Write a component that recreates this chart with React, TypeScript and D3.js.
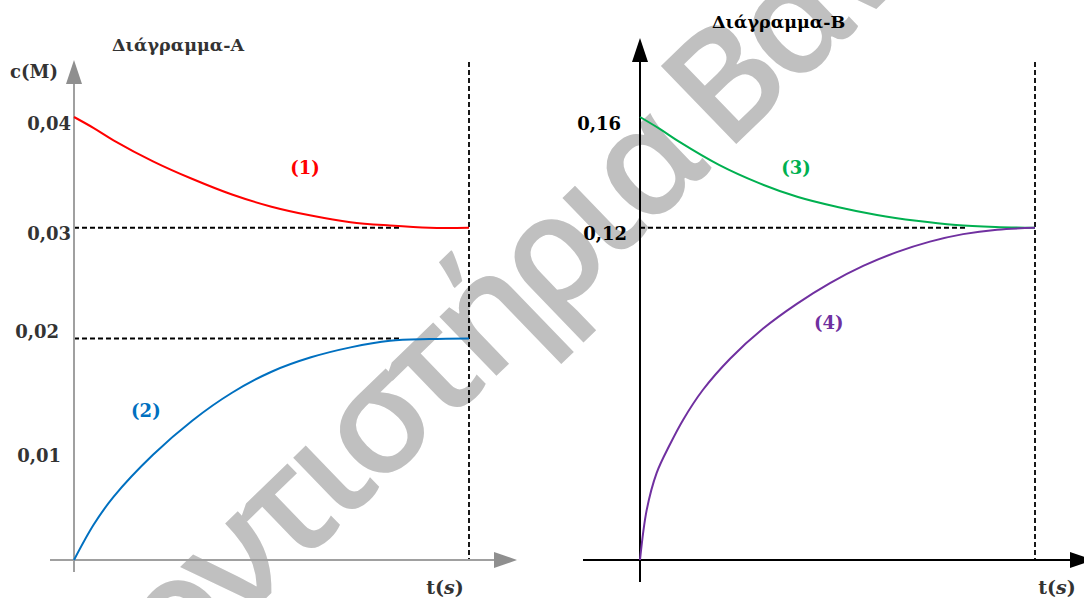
import React from 'react';
import * as d3 from 'd3';

const W = 1084;
const H = 598;

// Διάγραμμα-A : c(M) over t(s)
const timesA = [0, 0.5, 1, 2, 3, 4, 5, 6, 7, 8, 9, 10];
const conc1 = [0.04, 0.039, 0.0379, 0.036, 0.0344, 0.033, 0.0319, 0.0311, 0.0305, 0.0302, 0.03, 0.03];
const conc2 = [0, 0.0032, 0.0057, 0.0095, 0.0126, 0.0151, 0.017, 0.0183, 0.0192, 0.0198, 0.01995, 0.02];
const ticksA = [0.04, 0.03, 0.02, 0.01];
const tickLabelsA = ['0,04', '0,03', '0,02', '0,01'];
const guidesA = [0.03, 0.02];

// Διάγραμμα-B
const times3 = [0, 0.5, 1, 2, 3, 4, 5, 6, 7, 8, 9, 10];
const conc3 = [0.16, 0.1557, 0.151, 0.1427, 0.1362, 0.1311, 0.1275, 0.1246, 0.1225, 0.121, 0.1203, 0.12];
const times4 = [0, 0.17, 0.42, 0.76, 1.09, 1.59, 2.28, 3.11, 3.97, 4.81, 5.65, 6.5, 7.34, 8.18, 9.04, 10];
const conc4 = [0, 0.0181, 0.0314, 0.0418, 0.0506, 0.0614, 0.0727, 0.0835, 0.0925, 0.1, 0.1062, 0.1112, 0.115, 0.1177, 0.1193, 0.12];
const ticksB = [0.16, 0.12];
const tickLabelsB = ['0,16', '0,12'];
const guidesB = [0.12];

// curve names and where they sit (t, c)
const namesA = ['(1)', '(2)'];
const nameAtA = [[5.85, 0.0354], [1.82, 0.0135]];
const namesB = ['(3)', '(4)'];
const nameAtB = [[3.95, 0.1416], [4.78, 0.0856]];

const END_T = 10;
const GUIDE_END_T = 8.3;
const FONT = '"DejaVu Serif", serif';

const tri = (tipX: number, tipY: number, len: number, half: number, dir: 'up' | 'right') =>
  dir === 'up'
    ? `M${tipX},${tipY}L${tipX - half},${tipY + len}L${tipX + half},${tipY + len}Z`
    : `M${tipX},${tipY}L${tipX - len},${tipY - half}L${tipX - len},${tipY + half}Z`;

type PanelProps = {
  x: d3.ScaleLinear<number, number>;
  y: d3.ScaleLinear<number, number>;
  times: number[][];
  series: number[][];
  colors: string[];
  names: string[];
  nameAt: number[][];
  ticks: number[];
  tickLabels: string[];
  tickNudge: number[][];
  guides: number[];
  axisColor: string;
  arrowColor: string;
  textColor: string;
  title: string;
  titlePos: number[];
  yTitle?: string;
  // axis geometry: x-axis start pad, arrow tip beyond t end, y-arrow tip, y-axis tail, t(s) label x
  geo: { xPad: number; xTip: number; yTip: number; yTail: number; tLabel: number };
};

const Panel = (p: PanelProps) => {
  const { x, y, geo } = p;
  const x0 = x(0);
  const y0 = y(0);
  const xEnd = x(END_T);
  return (
    <g>
      {/* guides */}
      {p.guides.map(g => (
        <line key={g} x1={x0} x2={x(GUIDE_END_T)} y1={y(g)} y2={y(g)} stroke="#000" strokeWidth={1.8} strokeDasharray="5,3" />
      ))}
      <line x1={xEnd} x2={xEnd} y1={62} y2={y0} stroke="#000" strokeWidth={1.8} strokeDasharray="5,3" />
      {/* axes */}
      <line x1={x0 - geo.xPad} x2={xEnd + geo.xTip - 20} y1={y0} y2={y0} stroke={p.axisColor} strokeWidth={2} />
      <path d={tri(xEnd + geo.xTip, y0, 23, 8, 'right')} fill={p.arrowColor} />
      <line x1={x0} x2={x0} y1={y0 + geo.yTail} y2={geo.yTip + 20} stroke={p.axisColor} strokeWidth={2} />
      <path d={tri(x0, geo.yTip, 24, 8, 'up')} fill={p.arrowColor} />
      {/* curves */}
      {p.series.map((s, i) => {
        const line = d3
          .line<number>()
          .x((_, j) => x(p.times[i][j]))
          .y(d => y(d))
          .curve(d3.curveCatmullRom.alpha(0.5));
        return <path key={i} d={line(s) || ''} fill="none" stroke={p.colors[i]} strokeWidth={2} />;
      })}
      {/* tick labels */}
      {p.ticks.map((t, i) => (
        <text
          key={t}
          x={x0 - 3 + p.tickNudge[i][0]}
          y={y(t) + 7 + p.tickNudge[i][1]}
          textAnchor="end"
          dy="0.35em"
          fontFamily={FONT}
          fontWeight="bold"
          fontSize={18}
          fill={p.textColor}
        >
          {p.tickLabels[i]}
        </text>
      ))}
      {/* curve names */}
      {p.names.map((n, i) => (
        <text
          key={n}
          x={x(p.nameAt[i][0])}
          y={y(p.nameAt[i][1])}
          textAnchor="middle"
          dy="0.35em"
          fontFamily={FONT}
          fontWeight="bold"
          fontSize={18}
          fill={p.colors[i]}
        >
          {n}
        </text>
      ))}
      <text x={p.titlePos[0]} y={p.titlePos[1]} fontFamily={FONT} fontWeight="bold" fontSize={17.5} fill={p.textColor}>
        {p.title}
      </text>
      <text x={geo.tLabel} y={y0 + 34} textAnchor="middle" fontFamily={FONT} fontWeight="bold" fontSize={19} fill="#333">
        t(<tspan fontStyle="italic">s</tspan>)
      </text>
      {p.yTitle && (
        <text x={x0 - 64} y={geo.yTip + 18} fontFamily={FONT} fontWeight="bold" fontSize={18} fill={p.textColor}>
          {p.yTitle}
        </text>
      )}
    </g>
  );
};

const App = () => {
  const xA = d3.scaleLinear().domain([0, END_T]).range([74, 469]);
  const yA = d3.scaleLinear().domain([0, 0.04]).range([560, 117]);
  const xB = d3.scaleLinear().domain([0, END_T]).range([640, 1035]);
  const yB = d3.scaleLinear().domain([0, 0.16]).range([560, 117]);

  return (
    <svg width={W} height={H} style={{ position: 'absolute', left: 0, top: 0, background: '#fff' }}>
      <rect width={W} height={H} fill="#fff" />
      {/* watermark */}
      <g
        transform="translate(726,154) rotate(-44)"
        fill="#c0c0c0"
        fontFamily='"Open Sans", sans-serif'
        fontWeight={600}
        fontSize={152}
        letterSpacing={-9}
      >
        <text x={-26} textAnchor="end">Φροντιστήρια</text>
        <text x={0}>Βαν</text>
      </g>
      <Panel
        x={xA}
        y={yA}
        times={[timesA, timesA]}
        series={[conc1, conc2]}
        colors={['#ff0000', '#0070c0']}
        names={namesA}
        nameAt={nameAtA}
        ticks={ticksA}
        tickLabels={tickLabelsA}
        tickNudge={[[0, 0], [0, -1], [-12, -14], [-10, -1]]}
        guides={guidesA}
        axisColor="#a0a0a0"
        arrowColor="#8f8f8f"
        textColor="#333"
        title="Διάγραμμα-A"
        titlePos={[112, 51]}
        yTitle="c(M)"
        geo={{ xPad: 24, xTip: 48, yTip: 60, yTail: 12, tLabel: 445 }}
      />
      <Panel
        x={xB}
        y={yB}
        times={[times3, times4]}
        series={[conc3, conc4]}
        colors={['#00b050', '#7030a0']}
        names={namesB}
        nameAt={nameAtB}
        ticks={ticksB}
        tickLabels={tickLabelsB}
        tickNudge={[[-16, 0], [-10, -1]]}
        guides={guidesB}
        axisColor="#000"
        arrowColor="#000"
        textColor="#000"
        title="Διάγραμμα-B"
        titlePos={[712, 28]}
        geo={{ xPad: 57, xTip: 58, yTip: 38, yTail: 22, tLabel: 1057 }}
      />
    </svg>
  );
};

export default App;
